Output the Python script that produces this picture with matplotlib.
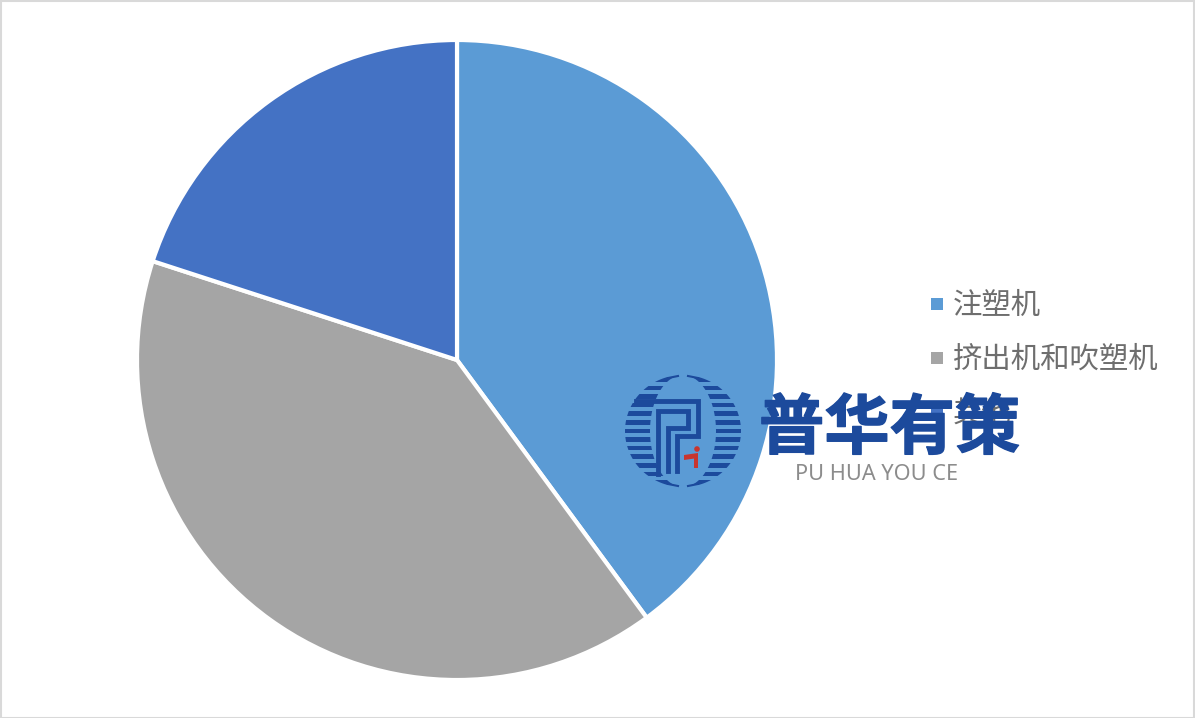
import matplotlib
matplotlib.use('Agg')
import numpy as np
import matplotlib.pyplot as plt
import matplotlib.patheffects as pe
from matplotlib.patches import Circle, Rectangle, Polygon

plt.rcParams['font.family'] = ['Noto Sans CJK SC', 'DejaVu Sans']

# pie data, clockwise from 12 o'clock
labels = ['注塑机', '挤出机和吹塑机', '其他']
values = [39.9, 40.1, 20.0]
colors = ['#5B9BD5', '#A5A5A5', '#4472C4']

W, H = 1195, 718
fig = plt.figure(figsize=(W / 100, H / 100), dpi=100)

# pie centre about (457, 360), radius about 320 px
ax = fig.add_axes([(457 - 322) / W, 1 - (360 + 322) / H, 644 / W, 644 / H])
ax.pie(values, colors=colors, startangle=90, counterclock=False, radius=320 / 322,
       wedgeprops={'edgecolor': 'white', 'linewidth': 3})
ax.set_xlim(-1, 1)
ax.set_ylim(-1, 1)

# everything else in pixel coords
ov = fig.add_axes([0, 0, 1, 1], facecolor='none')
ov.set_xlim(0, W)
ov.set_ylim(H, 0)
ov.axis('off')

# outer border
ov.add_patch(Rectangle((0.5, 0.5), W - 1, H - 1, fill=False, edgecolor='#D9D9D9', linewidth=1.5))

# legend
leg_y = [303, 357, 411]
for lab, col, y in zip(labels, colors, leg_y):
    ov.add_patch(Rectangle((931, y - 5), 12, 12, facecolor=col, edgecolor='none'))
    ov.text(953, y + 2, lab, fontsize=21.2, color='#6E6E6E', va='center', ha='left')

# watermark logo: striped left and right crescents
blue = '#1C4A9C'
red = '#C8352E'
cx, cy, rx, ry, lens = 683, 431, 58, 56, 33
th = np.linspace(-np.pi / 2, np.pi / 2, 80)
right_x = np.r_[cx + rx * np.cos(th), cx + lens * np.cos(th[::-1])]
both_y = np.r_[cy + ry * np.sin(th), cy + ry * np.sin(th[::-1])]
left_x = 2 * cx - right_x
for xs in (left_x, right_x):
    clip = Polygon(np.c_[xs, both_y], closed=True, transform=ov.transData)
    for y in np.arange(cy - 54, cy + 56, 8.6):
        band = Rectangle((cx - rx, y), 2 * rx, 4.6, facecolor=blue, edgecolor='none')
        ov.add_patch(band)
        band.set_clip_path(clip)
# dashes closing the circle at top and bottom
ov.plot([668, 678], [378, 376], color=blue, lw=1.5)
ov.plot([688, 698], [376, 378], color=blue, lw=1.5)
ov.plot([668, 678], [484, 486], color=blue, lw=1.5)
ov.plot([688, 698], [486, 484], color=blue, lw=1.5)
# P shaped lines inside
ov.plot([636, 698, 698, 677, 677], [401, 401, 436, 436, 471], color=blue, lw=3.5, solid_joinstyle='miter')
ov.plot([658, 658, 688, 688, 668, 668], [474, 411, 411, 428, 428, 471], color=blue, lw=3.5, solid_joinstyle='miter')
# red mark
ov.add_patch(Polygon([(684, 455), (698, 453), (698, 458), (684, 460)], facecolor=red, edgecolor='none'))
ov.add_patch(Rectangle((694, 455), 4.5, 13, facecolor=red, edgecolor='none'))
ov.add_patch(Circle((697, 449), 2.8, facecolor=red, edgecolor='none'))

name = ov.text(759, 429, '普华有策', fontsize=47, color=blue, va='center', ha='left', fontweight='bold')
name.set_path_effects([pe.withStroke(linewidth=1, foreground=blue)])
ov.text(795, 475, 'PU HUA YOU CE', fontsize=15.6, color='#8C8C8C', va='center', ha='left',
        family='Noto Sans')

fig.savefig('out.png', dpi=100)
